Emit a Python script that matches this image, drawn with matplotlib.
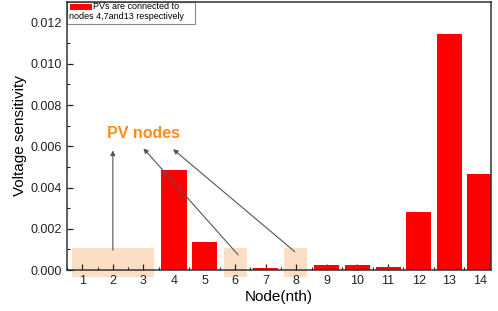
import matplotlib.pyplot as plt
from matplotlib.ticker import MultipleLocator
from matplotlib.patches import Rectangle

plt.rcParams['font.family'] = ['Liberation Sans', 'DejaVu Sans']

# data
nodes = [1, 2, 3, 4, 5, 6, 7, 8, 9, 10, 11, 12, 13, 14]
sensitivity = [0.0, 0.0, 0.0, 0.00484, 0.00137, 0.0, 0.00011, 0.0,
               0.00023, 0.00023, 0.00013, 0.00281, 0.01146, 0.00465]
pv_boxes = [(0.66, 3.34), (5.65, 6.4), (7.6, 8.35)]  # shaded node ranges
arrow_tails = [(2.0, 0.00097), (6.1, 0.00073), (7.95, 0.00089)]
arrow_heads = [(2.0, 0.0058), (3.0, 0.0059), (3.97, 0.00586)]
legend_lines = ['PVs are connected to', 'nodes 4,7and13 respectively']

fig = plt.figure(figsize=(4.98, 3.11), dpi=100)
ax = fig.add_axes([0.1345, 0.1318, 0.851, 0.8617])

for x0, x1 in pv_boxes:
    ax.add_patch(Rectangle((x0, -0.00034), x1 - x0, 0.00142,
                           facecolor='#FBDFC4', edgecolor='none',
                           clip_on=False, zorder=1))

ax.bar(nodes, sensitivity, width=0.82, color='#FF0000', zorder=2)

for (tx, ty), (hx, hy) in zip(arrow_tails, arrow_heads):
    ax.annotate('', xy=(hx, hy), xytext=(tx, ty),
                arrowprops=dict(arrowstyle='-|>', color='#555555', lw=0.8,
                                mutation_scale=7, shrinkA=0, shrinkB=0),
                zorder=3)

ax.text(3.0, 0.0066, 'PV nodes', color='#FF8C1A', fontsize=11.5,
        fontweight='bold', ha='center', va='center')

# Origin-style legend: second line wraps under the colour patch
ax.add_patch(Rectangle((0, 0.918), 0.302, 0.082, transform=ax.transAxes,
                       facecolor='white', edgecolor='#888888', lw=0.8,
                       zorder=4))
ax.add_patch(Rectangle((0.006, 0.972), 0.052, 0.02, transform=ax.transAxes,
                       facecolor='#FF0000', edgecolor='none', zorder=5))
ax.text(0.062, 0.982, legend_lines[0], transform=ax.transAxes, fontsize=6.5,
        va='center', ha='left', zorder=6)
ax.text(0.004, 0.946, legend_lines[1], transform=ax.transAxes, fontsize=6.5,
        va='center', ha='left', zorder=6)

ax.set_xlim(0.5, 14.36)
ax.set_ylim(0, 0.013)
ax.set_xticks(nodes)
ax.set_yticks([0.0, 0.002, 0.004, 0.006, 0.008, 0.010, 0.012])
ax.set_yticklabels(['0.000', '0.002', '0.004', '0.006', '0.008', '0.010', '0.012'])
ax.xaxis.set_minor_locator(MultipleLocator(0.5))
ax.yaxis.set_minor_locator(MultipleLocator(0.001))
ax.tick_params(which='both', direction='in', labelsize=9, colors='#222222')
ax.tick_params(which='major', length=4, width=0.9)
ax.tick_params(which='minor', length=2, width=0.8)
for s in ax.spines.values():
    s.set_color('#333333')
    s.set_linewidth(1.1)
    s.set_zorder(7)

ax.set_xlabel('Node(nth)', fontsize=11, labelpad=2)
ax.set_ylabel('Voltage sensitivity', fontsize=11, labelpad=3)

fig.savefig('out.png', dpi=100)
